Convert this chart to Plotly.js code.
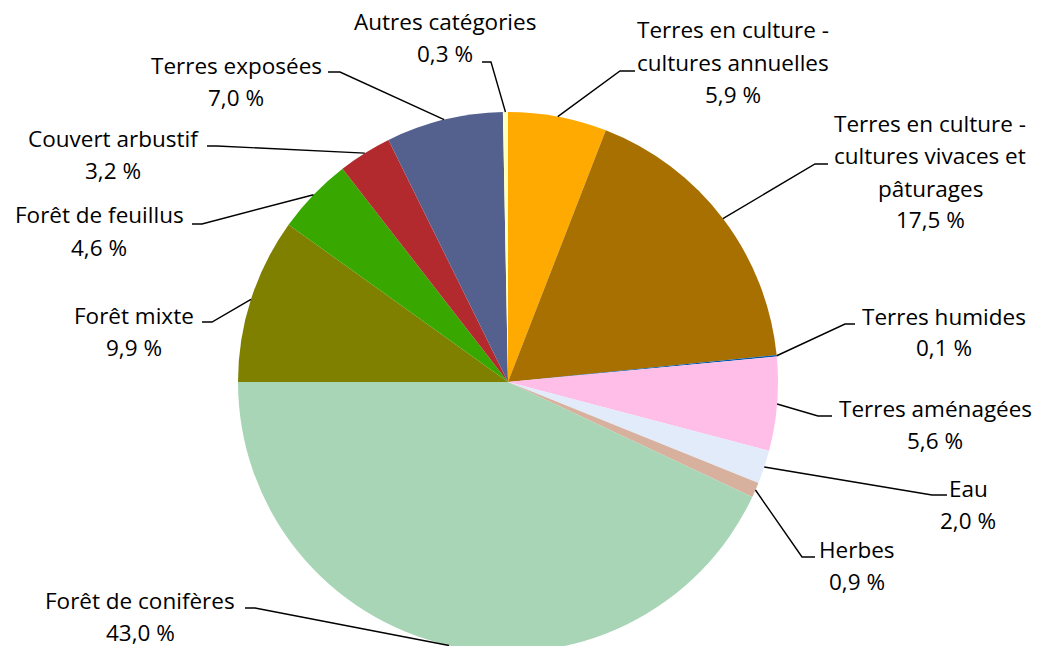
<!DOCTYPE html>
<html>
<head>
<meta charset="utf-8">
<script src="https://cdn.plot.ly/plotly-3.0.1.min.js"></script>
<style>
html,body{margin:0;padding:0;overflow:hidden;background:#fff;}
#chart{width:1038px;height:660px;}
</style>
</head>
<body>
<div id="chart"></div>
<script>
// ---- data ----
var categories = [
  "Terres en culture - cultures annuelles",
  "Terres en culture - cultures vivaces et pâturages",
  "Terres humides",
  "Terres aménagées",
  "Eau",
  "Herbes",
  "Forêt de conifères",
  "Forêt mixte",
  "Forêt de feuillus",
  "Couvert arbustif",
  "Terres exposées",
  "Autres catégories"
];
var values = [5.9, 17.5, 0.1, 5.6, 2.0, 0.9, 43.0, 9.9, 4.6, 3.2, 7.0, 0.3];
var labelLines = [
  ["Terres en culture -", "cultures annuelles"],
  ["Terres en culture -", "cultures vivaces et", "pâturages"],
  ["Terres humides"],
  ["Terres aménagées"],
  ["Eau"],
  ["Herbes"],
  ["Forêt de conifères"],
  ["Forêt mixte"],
  ["Forêt de feuillus"],
  ["Couvert arbustif"],
  ["Terres exposées"],
  ["Autres catégories"]
];

// ---- styles / layout ----
var colors = ["#FFAA00", "#A87000", "#0055AA", "#FFBEE8", "#E1EBF9", "#D7B09E",
              "#A8D5B5", "#7F7F00", "#38A800", "#B22A2E", "#54618F", "#FFFFBE"];
var W = 1038, H = 660;
var CX = 508, CY = 382, R = 270;
// label block: text centre x, first line centre y; leader elbow: [x1,y1] text side, [x2,y2] bend
var labelPos = [
  {x: 733, y: 30,  e1: [635, 71],  e2: [620, 71]},
  {x: 930, y: 124, e1: [828, 164], e2: [815, 164]},
  {x: 944, y: 316, e1: [855, 324], e2: [845, 324]},
  {x: 935, y: 408, e1: [832, 416], e2: [818, 416]},
  {x: 968, y: 488, e1: [947, 495], e2: [932, 495]},
  {x: 857, y: 549, e1: [815, 557], e2: [802, 557]},
  {x: 140, y: 600, e1: [245, 608], e2: [255, 608]},
  {x: 134, y: 315, e1: [202, 322], e2: [212, 322]},
  {x: 99,  y: 215, e1: [192, 224], e2: [202, 224]},
  {x: 113, y: 138, e1: [207, 146], e2: [217, 146]},
  {x: 236, y: 65,  e1: [328, 72],  e2: [340, 72]},
  {x: 445, y: 22,  e1: [482, 62],  e2: [491, 62]}
];
var LINE_H = 32;
var FONT = {family: "'Open Sans', 'Noto Sans', sans-serif", size: 22.5, color: "#000000"};

function px(x){ return x / W; }
function py(y){ return 1 - y / H; }
function fmt(v){ return v.toFixed(1).replace(".", ",") + " %"; }

var total = values.reduce(function(a,b){return a+b;}, 0);
var annotations = [], shapes = [];
var cum = 0;
for (var i = 0; i < values.length; i++) {
  var mid = (cum + values[i] / 2) / total * 2 * Math.PI;
  cum += values[i];
  var ex = CX + R * Math.sin(mid), ey = CY - R * Math.cos(mid);
  var lp = labelPos[i];
  var lines = labelLines[i].concat([fmt(values[i])]);
  for (var k = 0; k < lines.length; k++) {
    annotations.push({
      xref: "paper", yref: "paper", x: px(lp.x), y: py(lp.y + k * LINE_H),
      xanchor: "center", yanchor: "middle", showarrow: false,
      text: lines[k], font: FONT, borderpad: 0
    });
  }
  shapes.push({
    type: "path", xref: "paper", yref: "paper",
    path: "M" + px(lp.e1[0]) + "," + py(lp.e1[1]) +
          " L" + px(lp.e2[0]) + "," + py(lp.e2[1]) +
          " L" + px(ex) + "," + py(ey),
    line: {color: "#000000", width: 1.4}
  });
}

var trace = {
  type: "pie",
  labels: categories,
  values: values,
  sort: false,
  direction: "clockwise",
  rotation: 0,
  textinfo: "none",
  hoverinfo: "label+percent",
  marker: {colors: colors, line: {width: 0}},
  domain: {x: [px(CX - R), px(CX + R)], y: [py(CY + R), py(CY - R)]},
  showlegend: false
};

var layout = {
  width: W, height: H,
  margin: {l: 0, r: 0, t: 0, b: 0},
  paper_bgcolor: "#ffffff",
  plot_bgcolor: "#ffffff",
  showlegend: false,
  annotations: annotations,
  shapes: shapes
};

Plotly.newPlot("chart", [trace], layout, {displayModeBar: false, staticPlot: true});
</script>
</body>
</html>
